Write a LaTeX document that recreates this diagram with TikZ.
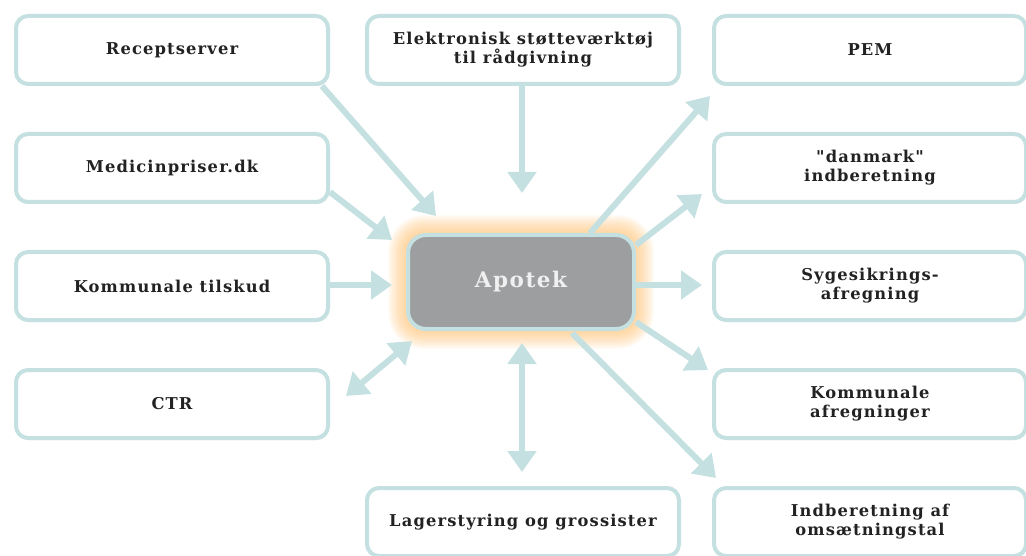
\documentclass[tikz,border=0pt]{standalone}
\usepackage{fontspec}
\newfontfamily\boxfont[LetterSpace=7]{DejaVu Serif}
\usetikzlibrary{arrows.meta,shadows}
\definecolor{rim}{HTML}{C4E0E1}
\definecolor{arrcol}{HTML}{C4E0E1}
\definecolor{apofill}{HTML}{9D9EA0}
\definecolor{txt}{HTML}{222222}
\definecolor{glowcol}{HTML}{FFC070}
\pgfdeclarelayer{glowlayer}
\pgfdeclarelayer{arrlayer}
\pgfsetlayers{glowlayer,arrlayer,main}
\tikzset{
  box/.style={draw=rim, line width=4pt, fill=white, rounded corners=12pt,
    minimum width=312pt, minimum height=68pt, align=center,
    font=\boxfont\bfseries\fontsize{16.3}{19}\selectfont, text=txt,
    drop shadow={shadow xshift=1pt, shadow yshift=-2pt, opacity=0.12, fill=black}},
  apo/.style={draw=rim, line width=4pt, fill=apofill, rounded corners=18pt,
    minimum width=226pt, minimum height=94pt,
    font=\boxfont\bfseries\fontsize{21.5}{24}\selectfont, text=white!94!black},
  arr/.style={draw=arrcol, line width=6pt, -{Triangle[width=28pt,length=21pt]}},
  darr/.style={draw=arrcol, line width=6pt, {Triangle[width=28pt,length=21pt]}-{Triangle[width=28pt,length=21pt]}}
}
\begin{document}
\begin{tikzpicture}[x=1pt,y=-1pt]
\useasboundingbox (0,0) rectangle (1026,556);
\clip (0,0) rectangle (1026,556);
% nodes
\node[box] (rec) at (172,50) {Receptserver};
\node[box] (med) at (172,168) {Medicinpriser.dk};
\node[box] (kt) at (172,286) {Kommunale tilskud};
\node[box] (ctr) at (172,404) {CTR};
\node[box] (ele) at (523,50) {Elektronisk støtteværktøj\\til rådgivning};
\node[box] (lag) at (523,522) {Lagerstyring og grossister};
\node[box] (pem) at (870,50) {PEM};
\node[box] (dan) at (870,168) {"danmark"\\indberetning};
\node[box] (syg) at (870,286) {Sygesikrings-\\afregning};
\node[box] (kaf) at (870,404) {Kommunale\\afregninger};
\node[box] (ind) at (870,522) {Indberetning af\\omsætningstal};
\node[apo] (apo) at (521,282) {Apotek};
% glow
\begin{pgfonlayer}{glowlayer}
\foreach \d in {1,2,...,18}{
  \fill[glowcol, opacity=0.05, rounded corners=18pt+\d pt]
    ([xshift=-\d pt,yshift=\d pt]apo.north west) rectangle ([xshift=\d pt,yshift=-\d pt]apo.south east);
}
\end{pgfonlayer}
% connector end points
\coordinate (rec-s) at (322,86);   \coordinate (rec-e) at (436,216);
\coordinate (med-s) at (330,192);  \coordinate (med-e) at (392,240);
\coordinate (kt-s)  at (330,285);  \coordinate (kt-e)  at (392,285);
\coordinate (ctr-s) at (346,396);  \coordinate (ctr-e) at (412,341);
\coordinate (ele-s) at (522,86);   \coordinate (ele-e) at (522,193);
\coordinate (lag-s) at (522,472);  \coordinate (lag-e) at (522,343);
\coordinate (pem-s) at (590,233);  \coordinate (pem-e) at (710,96);
\coordinate (dan-s) at (636,245);  \coordinate (dan-e) at (702,194);
\coordinate (syg-s) at (636,285);  \coordinate (syg-e) at (702,285);
\coordinate (kaf-s) at (636,322);  \coordinate (kaf-e) at (708,370);
\coordinate (ind-s) at (572,333);  \coordinate (ind-e) at (716,478);
\begin{pgfonlayer}{arrlayer}
\draw[arr] (rec-s) -- (rec-e);
\draw[arr] (med-s) -- (med-e);
\draw[arr] (kt-s) -- (kt-e);
\draw[darr] (ctr-s) -- (ctr-e);
\draw[arr] (ele-s) -- (ele-e);
\draw[darr] (lag-s) -- (lag-e);
\draw[arr] (pem-s) -- (pem-e);
\draw[arr] (dan-s) -- (dan-e);
\draw[arr] (syg-s) -- (syg-e);
\draw[arr] (kaf-s) -- (kaf-e);
\draw[arr] (ind-s) -- (ind-e);
\end{pgfonlayer}
\end{tikzpicture}
\end{document}
